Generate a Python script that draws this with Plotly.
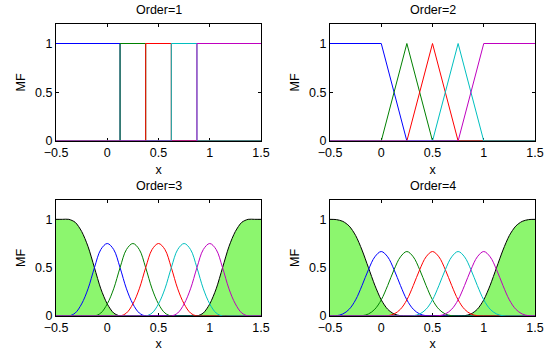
import plotly.graph_objects as go

# ---------------- data ----------------
# Order 1 (rectangular MFs)
o1_blue_x = [-0.5, 0.125, 0.125, 1.5]
o1_blue_y = [1, 1, 0, 0]
o1_green_x = [-0.5, 0.125, 0.125, 0.375, 0.375, 1.5]
o1_green_y = [0, 0, 1, 1, 0, 0]
o1_red_x = [-0.5, 0.375, 0.375, 0.625, 0.625, 1.5]
o1_red_y = [0, 0, 1, 1, 0, 0]
o1_cyan_x = [-0.5, 0.625, 0.625, 0.875, 0.875, 1.5]
o1_cyan_y = [0, 0, 1, 1, 0, 0]
o1_mag_x = [-0.5, 0.875, 0.875, 1.5]
o1_mag_y = [0, 0, 1, 1]

# Order 2 (triangular MFs)
o2_blue_x = [-0.5, 0, 0.25, 1.5]
o2_blue_y = [1, 1, 0, 0]
o2_green_x = [-0.5, 0, 0.25, 0.5, 1.5]
o2_green_y = [0, 0, 1, 0, 0]
o2_red_x = [-0.5, 0.25, 0.5, 0.75, 1.5]
o2_red_y = [0, 0, 1, 0, 0]
o2_cyan_x = [-0.5, 0.5, 0.75, 1.0, 1.5]
o2_cyan_y = [0, 0, 1, 0, 0]
o2_mag_x = [-0.5, 0.75, 1.0, 1.5]
o2_mag_y = [0, 0, 1, 1]

# Orders 3 and 4 sampled on a common grid (33 points, step 1/16)
x_grid = [-0.5, -0.4375, -0.375, -0.3125, -0.25, -0.1875, -0.125, -0.0625,
          0.0, 0.0625, 0.125, 0.1875, 0.25, 0.3125, 0.375, 0.4375,
          0.5, 0.5625, 0.625, 0.6875, 0.75, 0.8125, 0.875, 0.9375,
          1.0, 1.0625, 1.125, 1.1875, 1.25, 1.3125, 1.375, 1.4375, 1.5]

o3_black_l = [1, 1, 1, 0.969, 0.875, 0.719, 0.5, 0.281, 0.125, 0.031, 0,
              0, 0, 0, 0, 0, 0, 0, 0, 0, 0, 0,
              0, 0, 0, 0, 0, 0, 0, 0, 0, 0, 0]
o3_black_r = [0, 0, 0, 0, 0, 0, 0, 0, 0, 0, 0,
              0, 0, 0, 0, 0, 0, 0, 0, 0, 0, 0,
              0, 0.031, 0.125, 0.281, 0.5, 0.719, 0.875, 0.969, 1, 1, 1]
o3_blue = [0, 0, 0,
           0.031, 0.125, 0.281, 0.5, 0.688, 0.75, 0.688, 0.5, 0.281, 0.125, 0.031,
           0, 0, 0, 0, 0, 0, 0, 0, 0, 0, 0, 0, 0, 0, 0, 0, 0, 0, 0]
o3_green = [0, 0, 0, 0, 0, 0, 0,
            0.031, 0.125, 0.281, 0.5, 0.688, 0.75, 0.688, 0.5, 0.281, 0.125, 0.031,
            0, 0, 0, 0, 0, 0, 0, 0, 0, 0, 0, 0, 0, 0, 0]
o3_red = [0, 0, 0, 0, 0, 0, 0, 0, 0, 0, 0,
          0.031, 0.125, 0.281, 0.5, 0.688, 0.75, 0.688, 0.5, 0.281, 0.125, 0.031,
          0, 0, 0, 0, 0, 0, 0, 0, 0, 0, 0]
o3_cyan = [0, 0, 0, 0, 0, 0, 0, 0, 0, 0, 0, 0, 0, 0, 0,
           0.031, 0.125, 0.281, 0.5, 0.688, 0.75, 0.688, 0.5, 0.281, 0.125, 0.031,
           0, 0, 0, 0, 0, 0, 0]
o3_mag = [0, 0, 0, 0, 0, 0, 0, 0, 0, 0, 0, 0, 0, 0, 0, 0, 0, 0, 0,
          0.031, 0.125, 0.281, 0.5, 0.688, 0.75, 0.688, 0.5, 0.281, 0.125, 0.031,
          0, 0, 0]

o4_black_l = [1, 0.997, 0.979, 0.930, 0.833, 0.682, 0.5, 0.318, 0.167, 0.070, 0.021, 0.003, 0,
              0, 0, 0, 0, 0, 0, 0, 0, 0, 0,
              0, 0, 0, 0, 0, 0, 0, 0, 0, 0]
o4_black_r = [0, 0, 0, 0, 0, 0, 0, 0, 0, 0,
              0, 0, 0, 0, 0, 0, 0, 0, 0, 0,
              0, 0.003, 0.021, 0.070, 0.167, 0.318, 0.5, 0.682, 0.833, 0.930, 0.979, 0.997, 1]
o4_blue = [0,
           0.003, 0.021, 0.07, 0.167, 0.315, 0.479, 0.612, 0.667, 0.612, 0.479, 0.315, 0.167, 0.07, 0.021, 0.003,
           0, 0, 0, 0, 0, 0, 0, 0, 0, 0, 0, 0, 0, 0, 0, 0, 0]
o4_green = [0, 0, 0, 0, 0,
            0.003, 0.021, 0.07, 0.167, 0.315, 0.479, 0.612, 0.667, 0.612, 0.479, 0.315, 0.167, 0.07, 0.021, 0.003,
            0, 0, 0, 0, 0, 0, 0, 0, 0, 0, 0, 0, 0]
o4_red = [0, 0, 0, 0, 0, 0, 0, 0, 0,
          0.003, 0.021, 0.07, 0.167, 0.315, 0.479, 0.612, 0.667, 0.612, 0.479, 0.315, 0.167, 0.07, 0.021, 0.003,
          0, 0, 0, 0, 0, 0, 0, 0, 0]
o4_cyan = [0, 0, 0, 0, 0, 0, 0, 0, 0, 0, 0, 0, 0,
           0.003, 0.021, 0.07, 0.167, 0.315, 0.479, 0.612, 0.667, 0.612, 0.479, 0.315, 0.167, 0.07, 0.021, 0.003,
           0, 0, 0, 0, 0]
o4_mag = [0, 0, 0, 0, 0, 0, 0, 0, 0, 0, 0, 0, 0, 0, 0, 0, 0,
          0.003, 0.021, 0.07, 0.167, 0.315, 0.479, 0.612, 0.667, 0.612, 0.479, 0.315, 0.167, 0.07, 0.021, 0.003,
          0]

x_ticks = [-0.5, 0, 0.5, 1, 1.5]
x_tick_labels = ["\u22120.5", "0", "0.5", "1", "1.5"]
y_ticks = [0, 0.5, 1]
y_tick_labels = ["0", "0.5", "1"]
titles = ["Order=1", "Order=2", "Order=3", "Order=4"]

for s in [o3_black_l, o3_black_r, o3_blue, o3_green, o3_red, o3_cyan, o3_mag,
          o4_black_l, o4_black_r, o4_blue, o4_green, o4_red, o4_cyan, o4_mag]:
    assert len(s) == len(x_grid)

# ---------------- styling ----------------
C_BLUE = "rgb(0,0,255)"
C_GREEN = "rgb(0,128,0)"
C_RED = "rgb(255,0,0)"
C_CYAN = "rgb(0,191,191)"
C_MAG = "rgb(191,0,191)"
C_FILL = "rgb(140,246,110)"
FONT = "Liberation Sans, Arial, Helvetica, sans-serif"
FS = 12.5
W, H = 548, 351

# axes pixel boxes on the page: (left, right, top, bottom)
boxes = [(56, 261, 24, 141), (330, 535, 24, 141),
         (56, 261, 200, 316), (330, 535, 200, 316)]

fig = go.Figure()

def add_line(k, xs, ys, color, shape="linear"):
    ax = "" if k == 0 else str(k + 1)
    fig.add_trace(go.Scatter(x=xs, y=ys, mode="lines", xaxis="x" + ax, yaxis="y" + ax,
                             line=dict(color=color, width=1, shape=shape),
                             showlegend=False, hoverinfo="skip"))

def add_fill(k, xs, ys):
    ax = str(k + 1)
    fig.add_trace(go.Scatter(x=xs, y=ys, mode="lines", xaxis="x" + ax, yaxis="y" + ax,
                             fill="tozeroy", fillcolor=C_FILL,
                             line=dict(color="black", width=1, shape="spline", smoothing=0.8),
                             showlegend=False, hoverinfo="skip"))

# Order 1
add_line(0, o1_blue_x, o1_blue_y, C_BLUE)
add_line(0, o1_green_x, o1_green_y, C_GREEN)
add_line(0, o1_red_x, o1_red_y, C_RED)
add_line(0, o1_cyan_x, o1_cyan_y, C_CYAN)
add_line(0, o1_mag_x, o1_mag_y, C_MAG)
# Order 2
add_line(1, o2_blue_x, o2_blue_y, C_BLUE)
add_line(1, o2_green_x, o2_green_y, C_GREEN)
add_line(1, o2_red_x, o2_red_y, C_RED)
add_line(1, o2_cyan_x, o2_cyan_y, C_CYAN)
add_line(1, o2_mag_x, o2_mag_y, C_MAG)
# Order 3
add_fill(2, x_grid, o3_black_l)
add_fill(2, x_grid, o3_black_r)
for ys, c in [(o3_blue, C_BLUE), (o3_green, C_GREEN), (o3_red, C_RED),
              (o3_cyan, C_CYAN), (o3_mag, C_MAG)]:
    add_line(2, x_grid, ys, c, "spline")
# Order 4
add_fill(3, x_grid, o4_black_l)
add_fill(3, x_grid, o4_black_r)
for ys, c in [(o4_blue, C_BLUE), (o4_green, C_GREEN), (o4_red, C_RED),
              (o4_cyan, C_CYAN), (o4_mag, C_MAG)]:
    add_line(3, x_grid, ys, c, "spline")

layout = dict(width=W, height=H, margin=dict(l=0, r=0, t=0, b=0, autoexpand=False),
              paper_bgcolor="white", plot_bgcolor="white",
              font=dict(family=FONT, size=FS, color="black"),
              showlegend=False, hovermode=False)

annotations = []
for k, (l, r, t, b) in enumerate(boxes):
    ax = "" if k == 0 else str(k + 1)
    common = dict(showline=True, linecolor="black", linewidth=1, mirror="ticks",
                  ticks="inside", ticklen=3, tickcolor="black", showgrid=False,
                  zeroline=False, tickfont=dict(family=FONT, size=FS, color="black"),
                  layer="below traces", automargin=False)
    layout["xaxis" + ax] = dict(common, domain=[l / W, r / W], range=[-0.5, 1.5],
                                anchor="y" + ax, tickvals=x_ticks, ticktext=x_tick_labels,
                                title=dict(text="x", standoff=6,
                                           font=dict(family=FONT, size=FS)))
    layout["yaxis" + ax] = dict(common, domain=[1 - b / H, 1 - t / H], range=[0, 1.2],
                                anchor="x" + ax, tickvals=y_ticks, ticktext=y_tick_labels,
                                title=dict(text="MF", standoff=6,
                                           font=dict(family=FONT, size=FS)))
    annotations.append(dict(text=titles[k], x=(l + r) / 2 / W, y=1 - (t - 14.5) / H,
                            xref="paper", yref="paper", showarrow=False,
                            xanchor="center", yanchor="middle",
                            font=dict(family=FONT, size=FS, color="black")))
layout["annotations"] = annotations
fig.update_layout(**layout)
fig.write_html("out.html", config={"displayModeBar": False},
               post_script="document.body.style.margin='0px';")
